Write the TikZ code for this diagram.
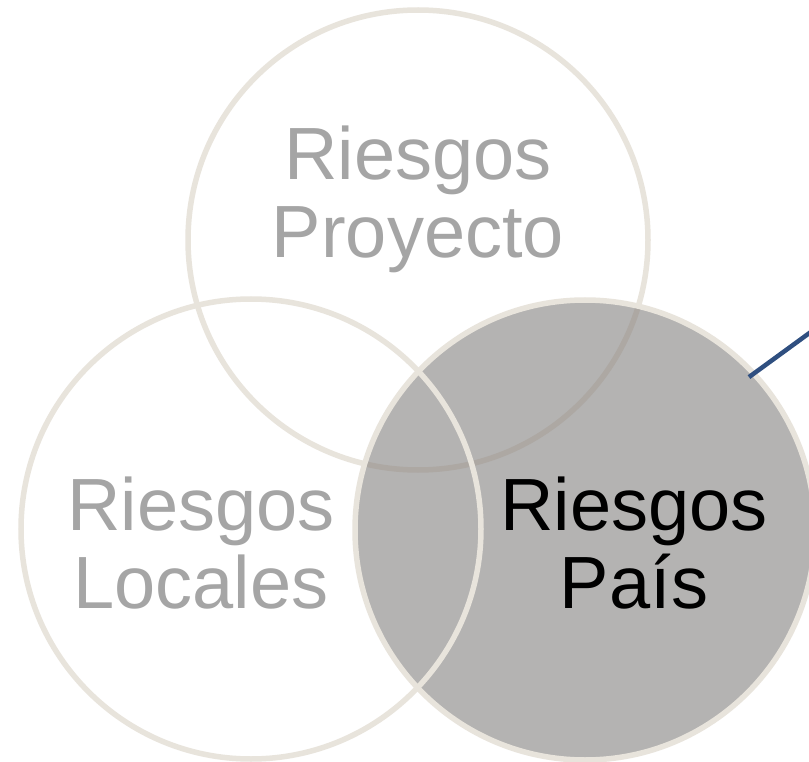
\documentclass[tikz,border=0pt]{standalone}
\usepackage{fontspec}
\setmainfont{Liberation Sans}
\usetikzlibrary{calc}
\definecolor{ringbeige}{RGB}{232,228,220}
\definecolor{ringdark}{RGB}{173,168,163}
\definecolor{fillgray}{RGB}{180,179,178}
\definecolor{txtgray}{RGB}{165,165,165}
\definecolor{linkblue}{RGB}{47,79,128}
\tikzset{
  ring/.style={circle, minimum size=460pt, inner sep=0pt, outer sep=0pt, line width=5.5pt, draw=ringbeige},
  lbl/.style={anchor=base, inner sep=0pt, font=\fontsize{74}{80}\selectfont},
}
\begin{document}
\begin{tikzpicture}[x=1pt,y=-1pt]
\clip (0,0) rectangle (809,762);
\fill[white] (0,0) rectangle (809,762);
% top circle
\node[ring] (topc) at (418,240) {};
% right (country) circle, filled
\node[ring, fill=fillgray] (rightc) at (585,530) {};
% part of the top circle seen through the grey fill
\begin{scope}
  \clip (585,530) circle (227);
  \draw[line width=5.5pt, ringdark] (418,240) circle (230);
\end{scope}
% left circle
\node[ring] (leftc) at (251,529) {};
% labels
\node[lbl, text=txtgray] (topA) at (418,180) {Riesgos};
\node[lbl, text=txtgray] (topB) at (418,258) {Proyecto};
\node[lbl, text=txtgray] (leftA) at (201,530) {Riesgos};
\node[lbl, text=txtgray] (leftB) at (201,608) {Locales};
\node[lbl, text=black] (rightA) at (634,530) {Riesgos};
\node[lbl, text=black] (rightB) at (634,608) {País};
% connector
\coordinate (linkstart) at ($(rightc.center)!0.975!(rightc.43)$);
\coordinate (linkend) at (830,318);
\draw[line width=4.5pt, linkblue] (linkstart) -- (linkend);
\end{tikzpicture}
\end{document}
